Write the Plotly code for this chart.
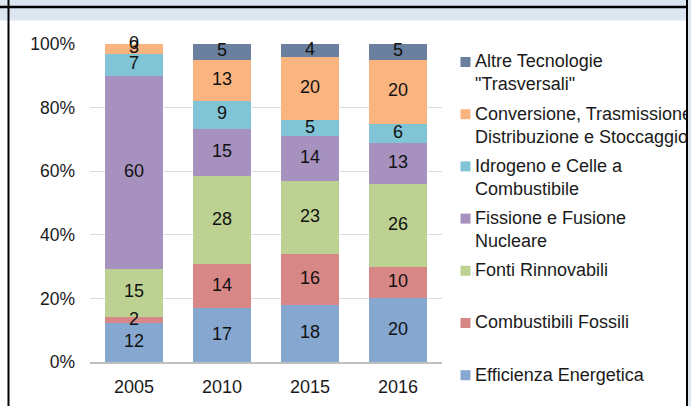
import numpy as np
import plotly.graph_objects as go

# --- data (percent shares by year) ---
years = ["2005", "2010", "2015", "2016"]

efficienza = [12, 17, 18, 20]
fossili = [2, 14, 16, 10]
rinnovabili = [15, 28, 23, 26]
nucleare = [60, 15, 14, 13]
idrogeno = [7, 9, 5, 6]
conversione = [3, 13, 20, 20]
altre = [0, 5, 4, 5]

series_names = [
    "Efficienza Energetica",
    "Combustibili Fossili",
    "Fonti Rinnovabili",
    "Fissione e Fusione<br>Nucleare",
    "Idrogeno e Celle a<br>Combustibile",
    "Conversione, Trasmissione,<br>Distribuzione e Stoccaggio",
    'Altre Tecnologie<br>"Trasversali"',
]
series_values = [efficienza, fossili, rinnovabili, nucleare, idrogeno, conversione, altre]
series_colors = ["#86A7D0", "#D88787", "#BDD192", "#A792BF", "#80C4D6", "#F9B47F", "#6B809E"]

y_ticks = [0, 20, 40, 60, 80, 100]
y_ticktext = ["0%", "20%", "40%", "60%", "80%", "100%"]

FONT = "Liberation Sans, Arial, sans-serif"
W, H = 691, 406
ML, MR, MT, MB = 90, 249, 44, 44
PW, PH = W - ML - MR, H - MT - MB


def px_x(px):
    return (px - ML) / PW


def px_y(py):
    return (H - MB - py) / PH


fig = go.Figure()

# stacked 100% bars
for name, vals, col in zip(series_names, series_values, series_colors):
    fig.add_trace(go.Bar(
        x=years, y=vals, name=name.replace("<br>", " "),
        marker=dict(color=col, line=dict(width=0)),
        showlegend=False,
    ))

# data labels centred on each segment (also the zero-height ones)
vals = np.array(series_values, dtype=float)
shares = vals / vals.sum(axis=0) * 100
mids = np.cumsum(shares, axis=0) - shares / 2
for i in range(len(series_values)):
    fig.add_trace(go.Scatter(
        x=years, y=mids[i], mode="text",
        text=[str(v) for v in series_values[i]],
        textfont=dict(family=FONT, size=18, color="#111111"),
        showlegend=False, hoverinfo="skip", cliponaxis=False,
    ))

# frame around the picture
shapes = [
    dict(type="rect", xref="paper", yref="paper", layer="below",
         x0=px_x(0), x1=px_x(W), y0=px_y(0), y1=px_y(20.5),
         fillcolor="#DCE6F1", line=dict(width=0)),
    dict(type="line", xref="paper", yref="paper",
         x0=px_x(0), x1=px_x(687), y0=px_y(7), y1=px_y(7),
         line=dict(color="black", width=2.5)),
    dict(type="line", xref="paper", yref="paper",
         x0=px_x(8.5), x1=px_x(8.5), y0=px_y(0), y1=px_y(H),
         line=dict(color="black", width=2)),
]

annotations = []

# custom legend (top = last series)
order = list(range(len(series_names)))[::-1]
for k, i in enumerate(order):
    cy = 62 + k * 52.2
    shapes.append(dict(
        type="rect", xref="paper", yref="paper",
        x0=px_x(460.5), x1=px_x(470.5), y0=px_y(cy - 5), y1=px_y(cy + 5),
        fillcolor=series_colors[i], line=dict(width=0),
    ))
    annotations.append(dict(
        xref="paper", yref="paper", x=px_x(473), y=px_y(cy - 12.7),
        xanchor="left", yanchor="top", align="left", showarrow=False,
        text=series_names[i],
        font=dict(family=FONT, size=18, color="#1A1A1A"),
    ))

# right border drawn over the legend so long labels get cut off
annotations.append(dict(
    xref="paper", yref="paper", x=px_x(685.5), y=px_y(H / 2),
    xanchor="left", yanchor="middle", showarrow=False, text=".",
    font=dict(size=4, color="#DCE6F1"),
    width=30, height=440, bgcolor="#DCE6F1", bordercolor="black",
    borderwidth=2, borderpad=0,
))

fig.update_layout(
    width=W, height=H,
    margin=dict(l=ML, r=MR, t=MT, b=MB, autoexpand=False),
    paper_bgcolor="white", plot_bgcolor="white",
    barmode="stack", barnorm="percent", bargap=0.33,
    font=dict(family=FONT, size=18, color="#1A1A1A"),
    shapes=shapes, annotations=annotations,
    xaxis=dict(
        type="category", showgrid=False, showline=True, automargin=False,
        linecolor="#BFBFBF", linewidth=1.5, ticks="",
        ticklabelstandoff=8, tickfont=dict(size=18),
    ),
    yaxis=dict(
        range=[0, 100], tickmode="array", tickvals=y_ticks, ticktext=y_ticktext,
        showgrid=True, gridcolor="#DDDDDD", gridwidth=1, zeroline=False, automargin=False,
        showline=False, ticks="", ticklabelstandoff=14, tickfont=dict(size=17.5),
    ),
)

fig.write_html(
    "out.html",
    config={"displayModeBar": False},
    post_script="document.body.style.margin='0';",
)
